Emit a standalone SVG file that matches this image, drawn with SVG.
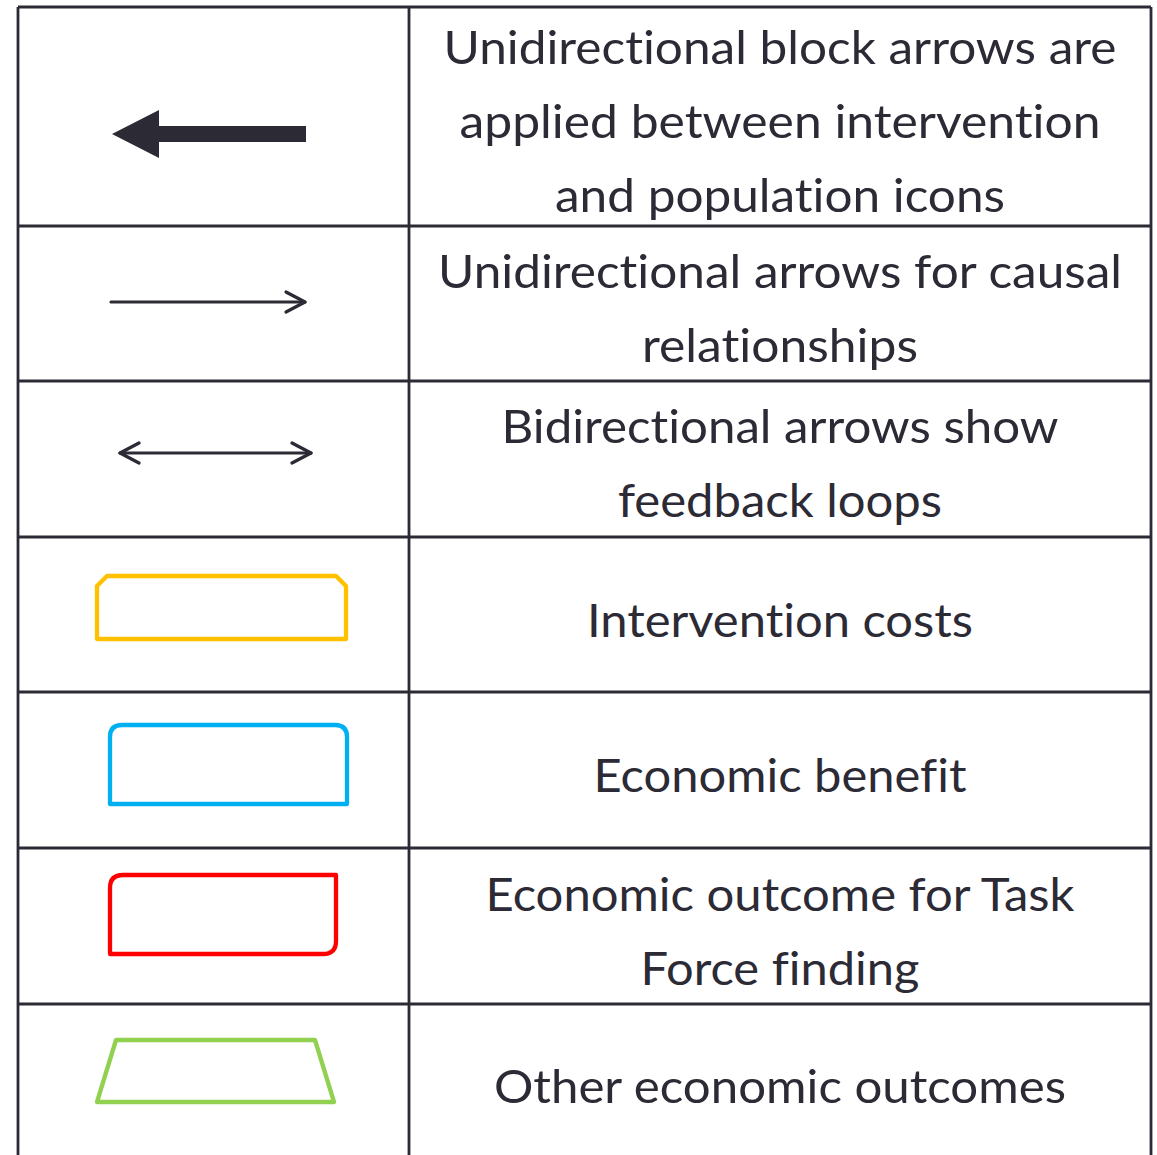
<svg xmlns="http://www.w3.org/2000/svg" width="1157" height="1155" viewBox="0 0 1157 1155">
<style>
.grid{stroke:#2b2a35;stroke-width:2.8;fill:none}
.lbl{font-family:Lato,"Open Sans","Liberation Sans",sans-serif;font-size:47px;fill:#2b2a35;text-anchor:middle;font-variant-ligatures:none;font-feature-settings:"liga" 0,"clig" 0}
.ln{stroke:#2b2a35;stroke-width:3.2;fill:none;stroke-linecap:round;stroke-linejoin:round}
.box{fill:none;stroke-width:4.3;stroke-linejoin:round}
</style>
<rect width="1157" height="1155" fill="#ffffff"/>
<g id="table">
<path class="grid" d="M18 7V1155M409 7V1155M1151 7V1155M18 7H1151M18 226H1151M18 381H1151M18 537H1151M18 692H1151M18 848H1151M18 1004H1151"/>
</g>
<g id="connectors">
<polygon id="block-arrow" points="112,134 159,110 159,126 306,126 306,142 159,142 159,158" fill="#2b2a35"/>
<g id="uni-arrow">
<path class="ln" d="M111 302H305"/>
<path class="ln" d="M286 292L305 302L286 312"/>
</g>
<g id="bi-arrow">
<path class="ln" d="M120 453H311"/>
<path class="ln" d="M139 443L120 453L139 463M292 443L311 453L292 463"/>
</g>
</g>
<g id="intervention-costs-shape"><path class="box" stroke="#ffc000" d="M97 639V586L107 576H336L346 586V639Z"/></g>
<g id="economic-benefit-shape"><path class="box" stroke="#00b0f0" d="M110 804V737Q110 725 122 725H335Q347 725 347 737V804Z"/></g>
<g id="task-force-shape"><path class="box" stroke="#ff0000" d="M110 954V888Q110 875 123 875H336V941Q336 954 323 954Z"/></g>
<g id="other-outcomes-shape"><path class="box" stroke="#92d050" d="M116 1040H315L334 1102H97Z"/></g>
<g id="row1-text">
<text class="lbl" x="780" y="64" textLength="673" lengthAdjust="spacingAndGlyphs">Unidirectional block arrows are</text>
<text class="lbl" x="780" y="138" textLength="641" lengthAdjust="spacingAndGlyphs">applied between intervention</text>
<text class="lbl" x="780" y="212" textLength="450" lengthAdjust="spacingAndGlyphs">and population icons</text>
</g>
<g id="row2-text">
<text class="lbl" x="780" y="288" textLength="684" lengthAdjust="spacingAndGlyphs">Unidirectional arrows for causal</text>
<text class="lbl" x="780" y="362" textLength="276" lengthAdjust="spacingAndGlyphs">relationships</text>
</g>
<g id="row3-text">
<text class="lbl" x="780" y="443" textLength="557" lengthAdjust="spacingAndGlyphs">Bidirectional arrows show</text>
<text class="lbl" x="780" y="517" textLength="324" lengthAdjust="spacingAndGlyphs">feedback loops</text>
</g>
<g id="row4-text">
<text class="lbl" x="780" y="637" textLength="386" lengthAdjust="spacingAndGlyphs">Intervention costs</text>
</g>
<g id="row5-text">
<text class="lbl" x="780" y="792" textLength="373" lengthAdjust="spacingAndGlyphs">Economic benefit</text>
</g>
<g id="row6-text">
<text class="lbl" x="780" y="911" textLength="589" lengthAdjust="spacingAndGlyphs">Economic outcome for Task</text>
<text class="lbl" x="780" y="985" textLength="279" lengthAdjust="spacingAndGlyphs">Force finding</text>
</g>
<g id="row7-text">
<text class="lbl" x="780" y="1103" textLength="572" lengthAdjust="spacingAndGlyphs">Other economic outcomes</text>
</g>
</svg>
